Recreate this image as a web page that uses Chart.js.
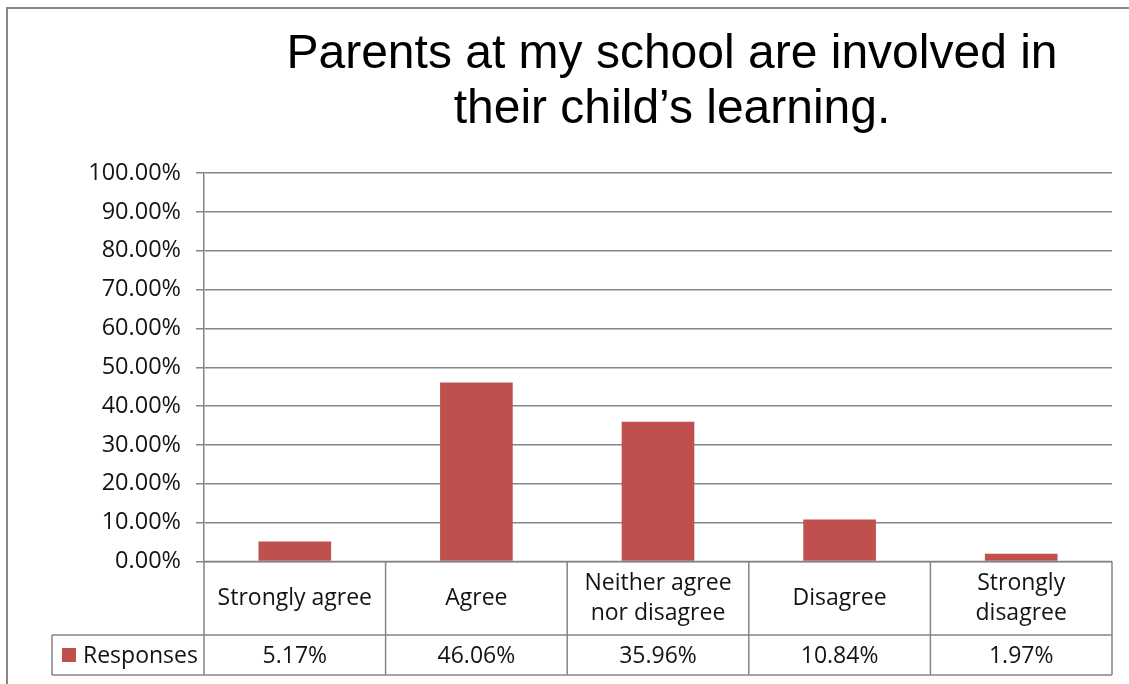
<!DOCTYPE html>
<html>
<head>
<meta charset="utf-8">
<script src="https://cdn.jsdelivr.net/npm/chart.js@4"></script>
<style>
  html, body { margin: 0; padding: 0; background: #ffffff; }
  #wrap { width: 1129px; height: 684px; position: relative; }
</style>
</head>
<body>
<div id="wrap"><canvas id="c"></canvas></div>
<script>
const titleLines = ['Parents at my school are involved in', 'their child\u2019s learning.'];
const categories = [['Strongly agree'], ['Agree'], ['Neither agree', 'nor disagree'], ['Disagree'], ['Strongly', 'disagree']];
const seriesName = 'Responses';
const responses = [5.17, 46.06, 35.96, 10.84, 1.97];
const yTickMax = 100;
const yTickStep = 10;

const GRID = '#858585';
const TEXT = '#141414';
const BAR = '#C0504D';
const FONT = '"Open Sans", "DejaVu Sans", sans-serif';

const decorPlugin = {
  id: 'decor',
  afterDraw(chart) {
    const ctx = chart.ctx;
    const ca = chart.chartArea;
    const xs = chart.scales.x;
    const n = categories.length;
    const band = (ca.right - ca.left) / n;
    const row1Bottom = ca.bottom + 73.5;
    const row2Bottom = row1Bottom + 40;
    const tableLeft = 52;

    ctx.save();
    // outer frame
    ctx.strokeStyle = '#888888';
    ctx.lineWidth = 2;
    ctx.beginPath();
    ctx.moveTo(7, 684); ctx.lineTo(7, 8); ctx.lineTo(1129, 8);
    ctx.stroke();

    // title
    ctx.fillStyle = '#000000';
    ctx.font = '48px "Liberation Sans", Arial, sans-serif';
    ctx.textAlign = 'center';
    ctx.textBaseline = 'alphabetic';
    ctx.fillText(titleLines[0], 672, 68);
    ctx.fillText(titleLines[1], 672, 123);

    // table lines
    ctx.strokeStyle = GRID;
    ctx.lineWidth = 1.5;
    ctx.beginPath();
    ctx.moveTo(ca.left, ca.bottom); ctx.lineTo(ca.right, ca.bottom);
    ctx.moveTo(tableLeft, row1Bottom); ctx.lineTo(ca.right, row1Bottom);
    ctx.moveTo(tableLeft, row2Bottom); ctx.lineTo(ca.right, row2Bottom);
    ctx.moveTo(tableLeft, row1Bottom); ctx.lineTo(tableLeft, row2Bottom);
    for (let i = 0; i <= n; i++) {
      const x = ca.left + band * i;
      ctx.moveTo(x, ca.bottom); ctx.lineTo(x, row2Bottom);
    }
    ctx.stroke();

    // category labels and values
    ctx.fillStyle = TEXT;
    ctx.font = '23px ' + FONT;
    ctx.textAlign = 'center';
    ctx.textBaseline = 'middle';
    const rowMid = (ca.bottom + row1Bottom) / 2;
    const lh = 30;
    for (let i = 0; i < n; i++) {
      const cx = xs.getPixelForValue(i);
      const lines = categories[i];
      const y0 = rowMid - (lines.length - 1) * lh / 2;
      lines.forEach((t, k) => ctx.fillText(t, cx, y0 + k * lh));
      ctx.fillText(responses[i].toFixed(2) + '%', cx, (row1Bottom + row2Bottom) / 2 + 1);
    }

    // legend key
    const midY = (row1Bottom + row2Bottom) / 2;
    ctx.fillStyle = BAR;
    ctx.fillRect(62, midY - 7, 14, 14);
    ctx.fillStyle = TEXT;
    ctx.textAlign = 'left';
    ctx.fillText(seriesName, 83, midY + 1);
    ctx.restore();
  }
};

new Chart(document.getElementById('c'), {
  type: 'bar',
  data: {
    labels: categories.map(l => l.join(' ')),
    datasets: [{
      label: seriesName,
      data: responses,
      backgroundColor: BAR,
      borderWidth: 0,
      barPercentage: 0.4,
      categoryPercentage: 1.0
    }]
  },
  options: {
    responsive: true,
    maintainAspectRatio: false,
    animation: false,
    layout: { padding: { top: 173, right: 17, bottom: 0, left: 0 } },
    plugins: {
      legend: { display: false },
      title: { display: false },
      tooltip: { enabled: false }
    },
    scales: {
      x: {
        offset: true,
        grid: { display: false, drawTicks: false },
        border: { display: false },
        ticks: { display: false },
        afterFit(scale) { scale.height = 122.5; }
      },
      y: {
        min: 0,
        max: yTickMax,
        ticks: {
          stepSize: yTickStep,
          color: TEXT,
          padding: 15,
          font: { family: FONT, size: 23.5 },
          callback: v => Number(v).toFixed(2) + '%'
        },
        grid: { color: GRID, lineWidth: 1.5, tickLength: 8, drawTicks: true },
        border: { display: true, color: GRID, width: 1.5 },
        afterFit(scale) { scale.width = 204; }
      }
    }
  },
  plugins: [decorPlugin]
});
</script>
</body>
</html>
